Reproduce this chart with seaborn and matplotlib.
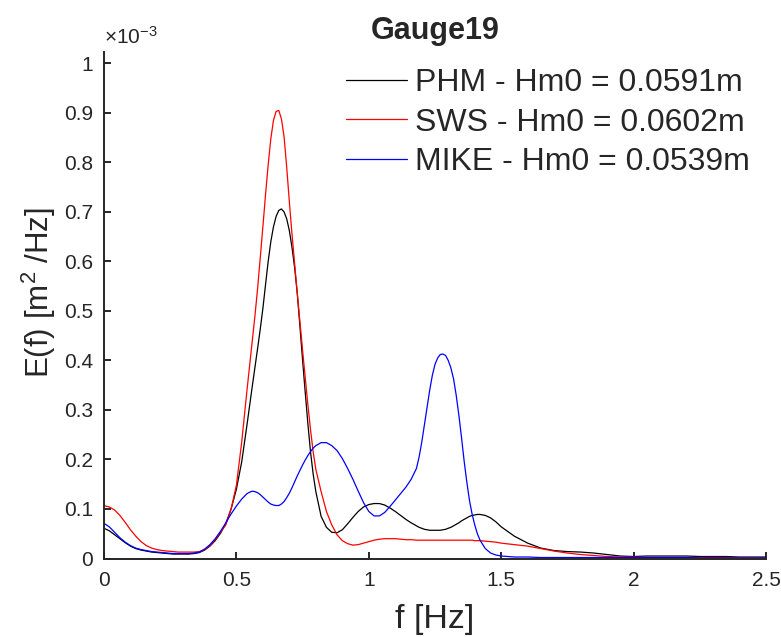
import numpy as np
import pandas as pd
import matplotlib
matplotlib.use("Agg")
import matplotlib.pyplot as plt
import seaborn as sns
from matplotlib.ticker import FuncFormatter

# ---- data (E in units of 1e-3 m^2/Hz) ----
freq = [0.00, 0.02, 0.04, 0.06, 0.08, 0.10, 0.12, 0.14, 0.16, 0.18,
        0.20, 0.22, 0.24, 0.26, 0.28, 0.30, 0.32, 0.34, 0.36, 0.38,
        0.40, 0.42, 0.44, 0.46, 0.48, 0.50, 0.52, 0.54,
        0.55, 0.56, 0.57, 0.58, 0.59, 0.60, 0.61, 0.62, 0.63, 0.64,
        0.65, 0.66, 0.67, 0.68, 0.69, 0.70, 0.71, 0.72, 0.73, 0.74,
        0.75, 0.76, 0.77, 0.78, 0.79, 0.80,
        0.82, 0.84, 0.86, 0.88, 0.90, 0.92, 0.94, 0.96, 0.98, 1.00,
        1.02, 1.04, 1.06, 1.08, 1.10, 1.12, 1.14, 1.16,
        1.18, 1.19, 1.20, 1.21, 1.22, 1.23, 1.24, 1.25, 1.26, 1.27,
        1.28, 1.29, 1.30, 1.31, 1.32, 1.33, 1.34, 1.35, 1.36, 1.37,
        1.38, 1.39, 1.40, 1.41, 1.42,
        1.44, 1.46, 1.48, 1.50,
        1.55, 1.60, 1.65, 1.70, 1.75, 1.80, 1.85, 1.90, 1.95, 2.00,
        2.05, 2.10, 2.15, 2.20, 2.25, 2.30, 2.35, 2.40, 2.45, 2.50]

phm = [0.061, 0.056, 0.048, 0.040, 0.032, 0.025, 0.020, 0.017, 0.015, 0.013,
       0.012, 0.011, 0.010, 0.009, 0.009, 0.009, 0.009, 0.010, 0.012, 0.017,
       0.025, 0.036, 0.051, 0.071, 0.100, 0.140, 0.195, 0.270,
       0.309, 0.348, 0.386, 0.424, 0.463, 0.505, 0.553, 0.600, 0.640, 0.670,
       0.691, 0.703, 0.706, 0.700, 0.686, 0.662, 0.628, 0.587, 0.535, 0.468,
       0.400, 0.335, 0.272, 0.215, 0.170, 0.135,
       0.085, 0.063, 0.053, 0.052, 0.058, 0.070, 0.083, 0.095, 0.104, 0.109,
       0.111, 0.111, 0.108, 0.102, 0.095, 0.087, 0.079, 0.072,
       0.066, 0.063, 0.061, 0.059, 0.058, 0.057, 0.057, 0.057, 0.057, 0.057,
       0.058, 0.059, 0.061, 0.063, 0.066, 0.069, 0.072, 0.076, 0.079, 0.082,
       0.085, 0.087, 0.088, 0.089, 0.089,
       0.087, 0.082, 0.074, 0.064,
       0.045, 0.031, 0.021, 0.016, 0.014, 0.013, 0.011, 0.008, 0.005, 0.004,
       0.005, 0.005, 0.005, 0.005, 0.004, 0.004, 0.004, 0.003, 0.003, 0.003]

sws = [0.107, 0.104, 0.098, 0.087, 0.073, 0.058, 0.045, 0.034, 0.026, 0.021,
       0.018, 0.016, 0.015, 0.014, 0.013, 0.013, 0.013, 0.013, 0.014, 0.018,
       0.026, 0.038, 0.053, 0.068, 0.100, 0.148, 0.235, 0.340,
       0.390, 0.440, 0.490, 0.545, 0.607, 0.670, 0.735, 0.795, 0.848, 0.885,
       0.903, 0.905, 0.888, 0.852, 0.790, 0.720, 0.655, 0.595, 0.535, 0.478,
       0.420, 0.365, 0.310, 0.260, 0.215, 0.180,
       0.135, 0.095, 0.068, 0.048, 0.036, 0.030, 0.027, 0.028, 0.031, 0.034,
       0.037, 0.039, 0.040, 0.040, 0.040, 0.039, 0.038, 0.038,
       0.037, 0.037, 0.037, 0.037, 0.037, 0.037, 0.037, 0.037, 0.037, 0.037,
       0.037, 0.037, 0.037, 0.037, 0.037, 0.037, 0.037, 0.037, 0.037, 0.037,
       0.037, 0.037, 0.036, 0.036, 0.036,
       0.035, 0.034, 0.033, 0.031,
       0.028, 0.025, 0.020, 0.015, 0.011, 0.008, 0.006, 0.004, 0.003, 0.003,
       0.002, 0.002, 0.002, 0.002, 0.002, 0.002, 0.002, 0.001, 0.001, 0.001]

mike = [0.071, 0.064, 0.053, 0.042, 0.033, 0.026, 0.021, 0.018, 0.016, 0.014,
        0.013, 0.012, 0.011, 0.010, 0.010, 0.010, 0.010, 0.011, 0.013, 0.019,
        0.028, 0.040, 0.055, 0.072, 0.090, 0.106, 0.120, 0.131,
        0.134, 0.136, 0.135, 0.133, 0.129, 0.124, 0.119, 0.114, 0.110, 0.108,
        0.107, 0.107, 0.110, 0.115, 0.123, 0.132, 0.143, 0.155, 0.167, 0.178,
        0.189, 0.199, 0.208, 0.216, 0.223, 0.228,
        0.234, 0.234, 0.228, 0.218, 0.202, 0.182, 0.160, 0.136, 0.113, 0.095,
        0.086, 0.086, 0.093, 0.105, 0.118, 0.131, 0.144, 0.160,
        0.182, 0.205, 0.235, 0.270, 0.305, 0.340, 0.370, 0.392, 0.405, 0.412,
        0.413, 0.410, 0.400, 0.385, 0.363, 0.330, 0.290, 0.245, 0.197, 0.155,
        0.118, 0.090, 0.068, 0.050, 0.037,
        0.020, 0.011, 0.007, 0.005,
        0.003, 0.003, 0.002, 0.002, 0.002, 0.002, 0.002, 0.002, 0.002, 0.002,
        0.002, 0.002, 0.002, 0.002, 0.001, 0.001, 0.001, 0.001, 0.001, 0.001]

labels = ["PHM - Hm0 = 0.0591m", "SWS - Hm0 = 0.0602m", "MIKE - Hm0 = 0.0539m"]
colors = ["#000000", "#ff0000", "#0000ff"]
xticks = [0, 0.5, 1, 1.5, 2, 2.5]
yticks = [0, 0.1, 0.2, 0.3, 0.4, 0.5, 0.6, 0.7, 0.8, 0.9, 1.0]

frames = []
for lab, vals in zip(labels, [phm, sws, mike]):
    frames.append(pd.DataFrame({"f": freq, "E": np.array(vals) * 1e-3, "series": lab}))
df = pd.concat(frames, ignore_index=True)

sns.set_style("ticks")
plt.rcParams["font.family"] = ["Liberation Sans", "DejaVu Sans"]
plt.rcParams["mathtext.default"] = "regular"

fig = plt.figure(figsize=(7.81, 6.37), dpi=100)
ax = fig.add_axes([104 / 781, 1 - 558.5 / 637, (766 - 104) / 781, (558.5 - 52) / 637])

sns.lineplot(data=df, x="f", y="E", hue="series", palette=dict(zip(labels, colors)),
             hue_order=labels, linewidth=0.9, ax=ax, legend=True, sort=False)

ax.set_xlim(0, 2.5)
ax.set_ylim(0, 1.023e-3)
ax.set_xticks(xticks)
ax.set_yticks([v * 1e-3 for v in yticks])
ax.xaxis.set_major_formatter(FuncFormatter(lambda v, p: f"{v:g}"))
ax.yaxis.set_major_formatter(FuncFormatter(lambda v, p: f"{v * 1e3:.1f}".rstrip("0").rstrip(".") if v != 0 else "0"))

axcol = "#262626"
for s in ["top", "right"]:
    ax.spines[s].set_visible(False)
for s in ["left", "bottom"]:
    ax.spines[s].set_linewidth(1.4)
    ax.spines[s].set_color(axcol)
ax.tick_params(direction="in", length=5, width=1.4, colors=axcol, labelsize=15,
               labelcolor=axcol)
ax.tick_params(axis="x", pad=9)
ax.tick_params(axis="y", pad=8)

ax.set_xlabel("f [Hz]", fontsize=24.5, color=axcol, labelpad=10)
ax.set_ylabel("E(f) [m$^2$ /Hz]", fontsize=22.5, color=axcol)
ax.yaxis.set_label_coords(-0.07, 0.525)
ax.set_title("Gauge19", fontsize=22, fontweight="bold", pad=9)
ax.text(0.0, 1.008, "×10$^{-3}$", transform=ax.transAxes, fontsize=15,
        color=axcol, ha="left", va="bottom")

h, l = ax.get_legend_handles_labels()
ax.legend(h, l, loc="upper right", frameon=False, fontsize=23, handlelength=1.9,
          handletextpad=0.25, borderaxespad=0.1, labelspacing=0.3)

fig.savefig("out.png", dpi=100)
